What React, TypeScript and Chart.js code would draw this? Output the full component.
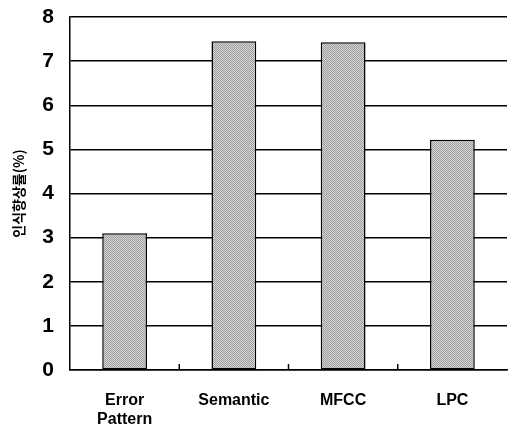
import React, { useEffect, useRef } from "react";
import { Chart, registerables } from "chart.js";

Chart.register(...registerables);

const categories: (string | string[])[] = [["Error", "Pattern"], "Semantic", "MFCC", "LPC"];
const values: number[] = [3.1, 7.45, 7.43, 5.22];
const yTicks: number[] = [0, 1, 2, 3, 4, 5, 6, 7, 8];
const yTitle = "인식향상률(%)";

function makePattern(): CanvasPattern | string {
  const c = document.createElement("canvas");
  c.width = 4;
  c.height = 4;
  const g = c.getContext("2d");
  if (!g) return "#aaaaaa";
  const shades = [
    ["#9a9a9a", "#d8d8d8", "#a4a4a4", "#d0d0d0"],
    ["#d4d4d4", "#a0a0a0", "#dcdcdc", "#969696"],
    ["#a8a8a8", "#cccccc", "#9c9c9c", "#d6d6d6"],
    ["#d0d0d0", "#9e9e9e", "#d2d2d2", "#a2a2a2"],
  ];
  for (let y = 0; y < 4; y++) {
    for (let x = 0; x < 4; x++) {
      g.fillStyle = shades[y][x];
      g.fillRect(x, y, 1, 1);
    }
  }
  const p = g.createPattern(c, "repeat");
  return p || "#aaaaaa";
}

const innerTicks = {
  id: "innerTicks",
  afterDatasetsDraw(chart: any) {
    const xs = chart.scales.x;
    const ctx = chart.ctx;
    const bottom = chart.chartArea.bottom;
    ctx.save();
    ctx.strokeStyle = "#000";
    ctx.lineWidth = 1.5;
    for (let i = 0; i < categories.length - 1; i++) {
      const a = xs.getPixelForValue(i);
      const b = xs.getPixelForValue(i + 1);
      const m = (a + b) / 2;
      ctx.beginPath();
      ctx.moveTo(m, bottom);
      ctx.lineTo(m, bottom - 6);
      ctx.stroke();
    }
    ctx.restore();
  },
};

export default function App() {
  const ref = useRef<HTMLCanvasElement>(null);
  useEffect(() => {
    if (!ref.current) return;
    const chart = new Chart(ref.current, {
      type: "bar",
      data: {
        labels: categories as any,
        datasets: [
          {
            data: values,
            backgroundColor: makePattern() as any,
            borderColor: "#000",
            borderWidth: 1.5,
            borderSkipped: false,
            barPercentage: 0.41,
            categoryPercentage: 1,
          },
        ],
      },
      options: {
        animation: false,
        responsive: false,
        maintainAspectRatio: false,
        layout: { padding: { top: 17, right: 2, left: 0, bottom: 0 } },
        plugins: { legend: { display: false }, tooltip: { enabled: false } },
        scales: {
          x: {
            grid: { display: false },
            border: { display: true, color: "#000", width: 1.5 },
            ticks: {
              color: "#000",
              padding: 13,
              font: { family: "'Liberation Sans Narrow', 'Liberation Sans', Arial, sans-serif", size: 16, weight: "bold", lineHeight: 1.2 },
              maxRotation: 0,
              autoSkip: false,
            },
            afterFit: (s: any) => {
              s.height = 60;
              s.paddingLeft = 0;
              s.paddingRight = 0;
            },
          },
          y: {
            min: 0,
            max: 8,
            afterBuildTicks: (s: any) => {
              s.ticks = yTicks.map((v) => ({ value: v }));
            },
            grid: { color: "#000", lineWidth: 1.5, drawTicks: false },
            border: { display: true, color: "#000", width: 1.5 },
            ticks: {
              color: "#000",
              padding: 16,
              font: { family: "'Liberation Sans', Arial, sans-serif", size: 21, weight: "bold" },
            },
            title: {
              display: true,
              text: yTitle,
              color: "#000",
              padding: { top: 10, bottom: 0 },
              font: { family: "'Noto Sans CJK KR', sans-serif", size: 14, weight: "bold" },
            },
            afterFit: (s: any) => {
              s.width = 70;
              s.paddingTop = 0;
              s.paddingBottom = 0;
            },
          },
        },
      },
      plugins: [innerTicks],
    });
    return () => chart.destroy();
  }, []);
  return (
    <div style={{ position: "absolute", left: 0, top: 0, width: 509, height: 430, background: "#fff" }}>
      <canvas ref={ref} width={509} height={430} style={{ width: 509, height: 430 }} />
    </div>
  );
}
